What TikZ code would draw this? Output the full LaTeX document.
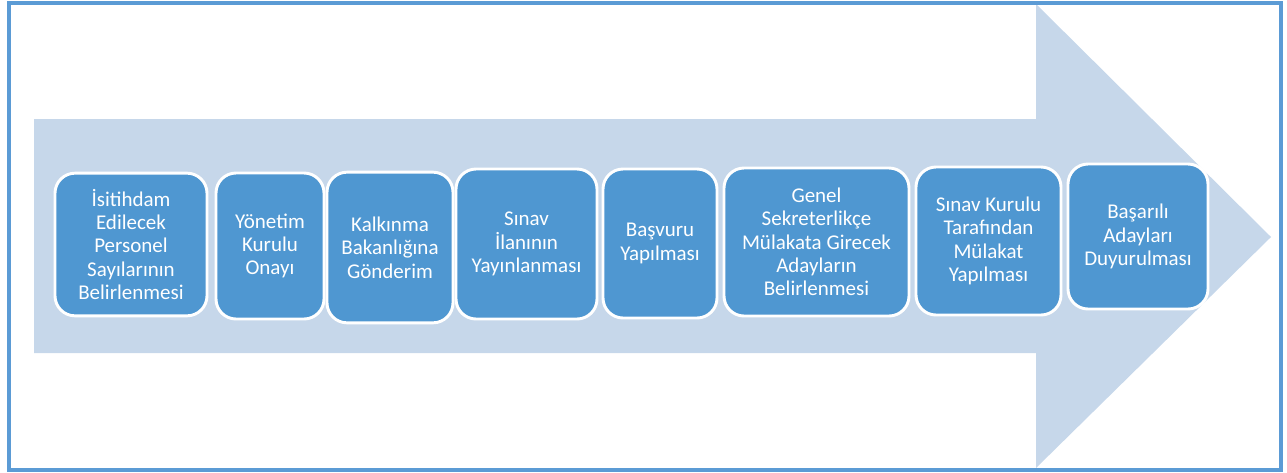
\documentclass[tikz,border=0pt]{standalone}
\usepackage{fontspec}
\setmainfont{Carlito}
\definecolor{framecol}{RGB}{91,155,213}
\definecolor{arrowcol}{RGB}{198,215,234}
\definecolor{boxcol}{RGB}{79,151,209}
\begin{document}
\begin{tikzpicture}[x=0.75pt,y=-0.75pt,
	stepbox/.style = {rectangle, rounded corners=15pt, draw=white, line width=2.2pt,
		fill=boxcol, text=white, align=center, inner sep=0pt,
		font=\fontsize{15.75}{17.5}\selectfont}]

\useasboundingbox (0,0) rectangle (1287,472);

\fill[arrowcol] (34,119) -- (1036,119) -- (1036,4) -- (1271,237) -- (1036,468) -- (1036,353) -- (34,353) -- cycle;
\draw[framecol,line width=2.3pt] (9,3) rectangle (1281,470);

\node[stepbox, minimum width=114pt, minimum height=107pt] (a) at (131,244.5) {İsitihdam\\Edilecek\\Personel\\Sayılarının\\Belirlenmesi};
\node[stepbox, minimum width=81pt, minimum height=109.5pt] (b) at (270,246) {Yönetim\\Kurulu\\Onayı};
\node[stepbox, minimum width=94.5pt, minimum height=113pt] (c) at (390,247.5) {Kalkınma\\Bakanlığına\\Gönderim};
\node[stepbox, minimum width=105.75pt, minimum height=112.5pt] (d) at (526.5,244) {Sınav\\İlanının\\Yayınlanması};
\node[stepbox, minimum width=85.5pt, minimum height=111.75pt] (e) at (660,243.5) {Başvuru\\Yapılması};
\node[stepbox, minimum width=138.75pt, minimum height=111pt] (f) at (816.5,242) {Genel\\Sekreterlikçe\\Mülakata Girecek\\Adayların\\Belirlenmesi};
\node[stepbox, minimum width=108.75pt, minimum height=111pt] (g) at (988.5,241) {Sınav Kurulu\\Tarafından\\Mülakat\\Yapılması};
\node[stepbox, minimum width=105pt, minimum height=108.75pt] (h) at (1138,236.5) {Başarılı\\Adayları\\Duyurulması};
\end{tikzpicture}
\end{document}
